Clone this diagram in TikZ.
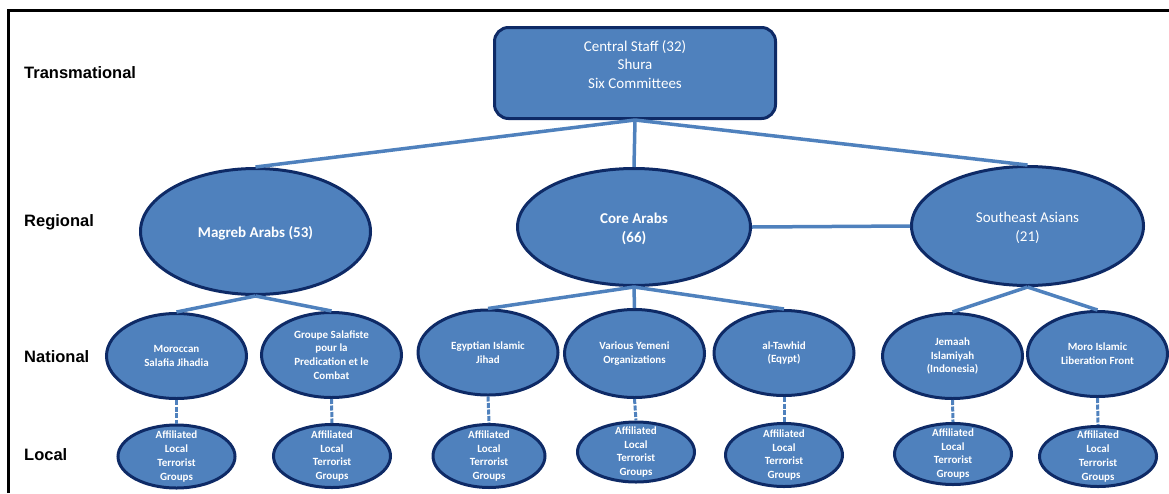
\documentclass[tikz,border=0pt]{standalone}
\usepackage{fontspec}
\setmainfont{Carlito}
\newfontfamily\labfont{Liberation Sans}
\usetikzlibrary{shapes.geometric}
\definecolor{nodefill}{HTML}{4F81BD}
\definecolor{navy}{HTML}{0E2A66}
\definecolor{linkblue}{HTML}{4F81BD}
\begin{document}
\begin{tikzpicture}[x=1pt,y=-1pt,
  lvl/.style={font=\labfont\bfseries\fontsize{16.5}{19}\selectfont, anchor=base west, text=black, inner sep=0},
  topbox/.style={draw=navy, fill=nodefill, line width=3pt, rounded corners=14pt, minimum width=281pt, minimum height=91pt, inner sep=0},
  toptext/.style={text=white, align=center, inner sep=0, font=\fontsize{15}{18.5}\selectfont},
  ell/.style={ellipse, draw=navy, fill=nodefill, line width=3pt, inner sep=0},
  reg/.style={ell, minimum width=231pt, minimum height=119pt},
  regtext/.style={text=white, align=center, inner sep=0, font=\fontsize{15}{19}\selectfont},
  nat/.style={ell, minimum width=140pt, minimum height=85pt},
  loc/.style={ell, minimum width=117pt, minimum height=63pt},
  smalltext/.style={text=white, align=center, inner sep=0, font=\bfseries\fontsize{11}{13.7}\selectfont},
  link/.style={draw=linkblue, line width=3.5pt},
  dlink/.style={draw=linkblue, line width=3pt, dash pattern=on 5pt off 1.5pt}
]
\useasboundingbox (0,0) rectangle (1169,493);
% frame
\draw[line width=3.5pt, black] (8.7,493) -- (8.7,10.7) -- (1169,10.7);

% level labels
\node[lvl] (lt) at (24,78.5) {Transmational};
\node[lvl] (lr) at (24,226.5) {Regional};
\node[lvl] (ln) at (24,362.5) {National};
\node[lvl] (ll) at (24,460) {Local};

% top box
\node[topbox, label={[toptext, yshift=8.5pt]center:{Central Staff (32)\\Shura\\Six Committees}}] (top) at (635,73) {};

% regional
\node[reg, minimum width=230pt, minimum height=126pt, label={[regtext, font=\bfseries\fontsize{15}{19}\selectfont, yshift=-1.5pt]center:{Magreb Arabs (53)}}] (magreb) at (255.5,231.5) {};
\node[reg, minimum width=233pt, minimum height=117pt, label={[regtext, font=\bfseries\fontsize{15}{19}\selectfont, yshift=-1.5pt]center:{Core Arabs\\(66)}}] (core) at (634,227) {};
\node[reg, minimum width=232pt, minimum height=119pt, label={[regtext, yshift=-2pt]center:{Southeast Asians\\(21)}}] (se) at (1027.5,226) {};

% national
\node[nat, label={[smalltext]center:{Moroccan\\Salafia Jihadia}}] (moroccan) at (176.5,356) {};
\node[nat, label={[smalltext]center:{Groupe Salafiste\\pour la\\Predication et le\\Combat}}] (groupe) at (331.5,355) {};
\node[nat, label={[smalltext]center:{Egyptian Islamic\\Jihad}}] (egypt) at (488,352.5) {};
\node[nat, minimum height=88pt, label={[smalltext]center:{Various Yemeni\\Organizations}}] (yemen) at (634.5,353.5) {};
\node[nat, label={[smalltext]center:{al-Tawhid\\(Eqypt)}}] (tawhid) at (784,353) {};
\node[nat, label={[smalltext]center:{Jemaah\\Islamiyah\\(Indonesia)}}] (jemaah) at (952.5,356) {};
\node[nat, label={[smalltext]center:{Moro Islamic\\Liberation Front}}] (moro) at (1097.5,354) {};

% local
\node[loc, label={[smalltext]center:{Affiliated\\Local\\Terrorist\\Groups}}] (l1) at (176.5,456.5) {};
\node[loc, label={[smalltext]center:{Affiliated\\Local\\Terrorist\\Groups}}] (l2) at (332,456) {};
\node[loc, minimum width=112pt, label={[smalltext]center:{Affiliated\\Local\\Terrorist\\Groups}}] (l3) at (489,456) {};
\node[loc, minimum height=60pt, label={[smalltext]center:{Affiliated\\Local\\Terrorist\\Groups}}] (l4) at (636,452) {};
\node[loc, label={[smalltext]center:{Affiliated\\Local\\Terrorist\\Groups}}] (l5) at (784,455) {};
\node[loc, minimum height=61pt, label={[smalltext]center:{Affiliated\\Local\\Terrorist\\Groups}}] (l6) at (953,454) {};
\node[loc, minimum height=60pt, label={[smalltext]center:{Affiliated\\Local\\Terrorist\\Groups}}] (l7) at (1098,456.5) {};

% connectors
\draw[link] (top.south) -- (magreb.north);
\draw[link] (top.south) -- (core.north);
\draw[link] (top.south) -- (se.north);
\draw[link] (core.east) -- (se.west);
\draw[link] (magreb.south) -- (moroccan.north);
\draw[link] (magreb.south) -- (groupe.north);
\draw[link] (core.south) -- (egypt.north);
\draw[link] (core.south) -- (yemen.north);
\draw[link] (core.south) -- (tawhid.north);
\draw[link] (se.south) -- (jemaah.north);
\draw[link] (se.south) -- (moro.north);
\draw[dlink] (moroccan.south) -- (l1.north);
\draw[dlink] (groupe.south) -- (l2.north);
\draw[dlink] (egypt.south) -- (l3.north);
\draw[dlink] (yemen.south) -- (l4.north);
\draw[dlink] (tawhid.south) -- (l5.north);
\draw[dlink] (jemaah.south) -- (l6.north);
\draw[dlink] (moro.south) -- (l7.north);
\end{tikzpicture}
\end{document}
